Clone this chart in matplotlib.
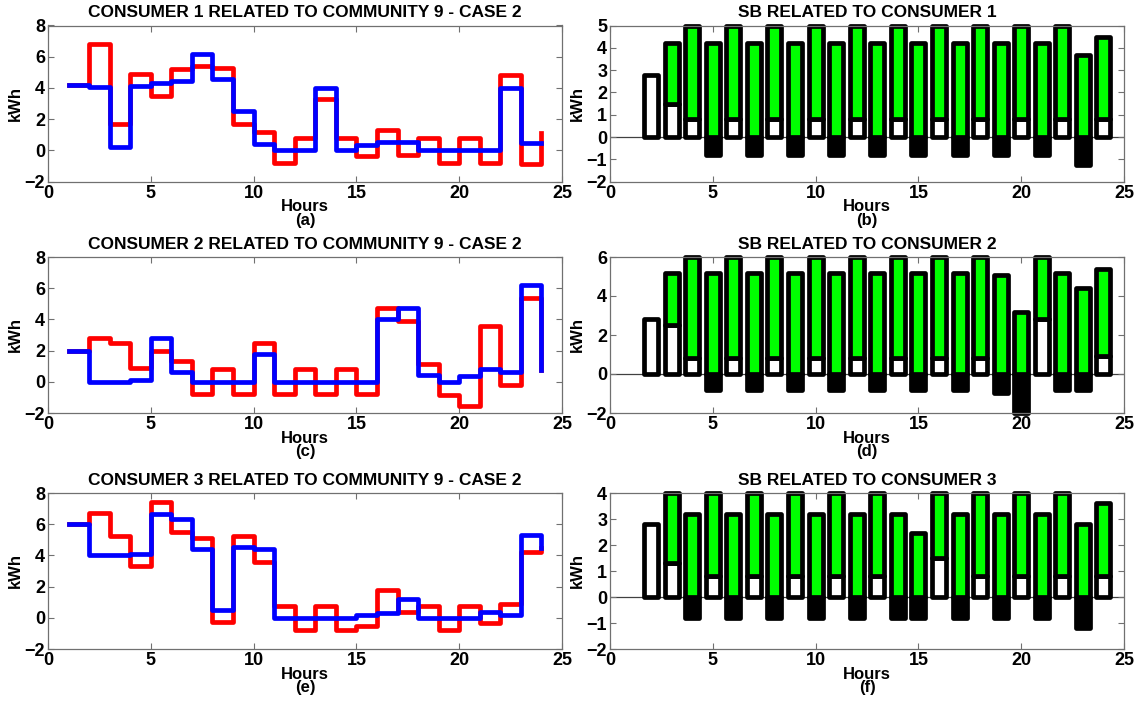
import numpy as np
import matplotlib
matplotlib.use("Agg")
import matplotlib.pyplot as plt

plt.rcParams["font.family"] = ["Liberation Sans", "DejaVu Sans"]
plt.rcParams["font.weight"] = "bold"

# ---- hourly energy profiles (kWh) ----
hours = np.arange(1, 25)

c1_red = [4.2, 6.8, 1.7, 4.9, 3.5, 5.2, 5.4, 5.3, 1.7, 1.2, -0.8, 0.8,
          3.3, 0.8, -0.35, 1.3, -0.3, 0.8, -0.8, 0.8, -0.8, 4.8, -0.85, 1.1]
c1_blue = [4.2, 4.05, 0.2, 4.1, 4.3, 4.45, 6.2, 4.55, 2.5, 0.4, 0.0, 0.0,
           4.0, 0.0, 0.35, 0.55, 0.55, 0.0, 0.0, 0.0, 0.0, 4.0, 0.5, 0.5]

c2_red = [2.0, 2.8, 2.5, 0.9, 2.0, 1.35, -0.8, 0.8, -0.8, 2.5, -0.8, 0.8,
          -0.8, 0.8, -0.8, 4.75, 3.9, 1.15, -0.85, -1.55, 3.6, -0.2, 5.4, 0.75]
c2_blue = [2.0, 0.0, 0.0, 0.1, 2.8, 0.6, 0.0, 0.0, 0.0, 1.8, 0.0, 0.0,
           0.0, 0.0, 0.0, 4.0, 4.7, 0.45, 0.0, 0.4, 0.85, 0.6, 6.2, 0.75]

c3_red = [6.0, 6.75, 5.25, 3.3, 7.4, 5.5, 5.1, -0.3, 5.25, 3.6, 0.75, -0.8,
          0.75, -0.8, -0.55, 1.8, 0.35, 0.75, -0.8, 0.75, -0.35, 0.9, 4.2, 4.5]
c3_blue = [6.0, 4.0, 4.0, 4.1, 6.65, 6.35, 4.4, 0.5, 4.55, 4.4, 0.0, 0.0,
           0.0, 0.0, 0.2, 0.3, 1.2, 0.0, 0.0, 0.0, 0.4, 0.2, 5.3, 4.5]

# ---- storage battery (SB) bars, hours 2..24 ----
sb_hours = np.arange(2, 25)

sb1_white = [2.8, 1.5, 0.8, 0, 0.8, 0, 0.8, 0, 0.8, 0, 0.8, 0,
             0.8, 0, 0.8, 0, 0.8, 0, 0.8, 0, 0.8, 0, 0.8]
sb1_green = [0, 2.7, 4.2, 4.2, 4.2, 4.2, 4.2, 4.2, 4.2, 4.2, 4.2, 4.2,
             4.2, 4.2, 4.2, 4.2, 4.2, 4.2, 4.2, 4.2, 4.2, 3.7, 3.7]
sb1_black = [0, 0, 0, -0.8, 0, -0.8, 0, -0.8, 0, -0.8, 0, -0.8,
             0, -0.8, 0, -0.8, 0, -0.8, 0, -0.8, 0, -1.25, 0]

sb2_white = [2.8, 2.5, 0.8, 0, 0.8, 0, 0.8, 0, 0.8, 0, 0.8, 0,
             0.8, 0, 0.8, 0, 0.8, 0, 0, 2.8, 0, 0, 0.9]
sb2_green = [0, 2.7, 5.2, 5.2, 5.2, 5.2, 5.2, 5.2, 5.2, 5.2, 5.2, 5.2,
             5.2, 5.2, 5.2, 5.2, 5.2, 5.1, 3.2, 3.2, 5.2, 4.4, 4.5]
sb2_black = [0, 0, 0, -0.8, 0, -0.8, 0, -0.8, 0, -0.8, 0, -0.8,
             0, -0.8, 0, -0.8, 0, -0.95, -2.0, 0, -0.8, -0.8, 0]

sb3_white = [2.8, 1.3, 0, 0.8, 0, 0.8, 0, 0.8, 0, 0.8, 0, 0.8,
             0, 0, 1.5, 0, 0.8, 0, 0.8, 0, 0.8, 0, 0.8]
sb3_green = [0, 2.7, 3.2, 3.2, 3.2, 3.2, 3.2, 3.2, 3.2, 3.2, 3.2, 3.2,
             3.2, 2.45, 2.5, 3.2, 3.2, 3.2, 3.2, 3.2, 3.2, 2.8, 2.8]
sb3_black = [0, 0, -0.8, 0, -0.8, 0, -0.8, 0, -0.8, 0, -0.8, 0,
             -0.8, -0.8, 0, -0.8, 0, -0.8, 0, -0.8, 0, -1.2, 0]

line_titles = ["CONSUMER 1 RELATED TO COMMUNITY 9 - CASE 2",
               "CONSUMER 2 RELATED TO COMMUNITY 9 - CASE 2",
               "CONSUMER 3 RELATED TO COMMUNITY 9 - CASE 2"]
sb_titles = ["SB RELATED TO CONSUMER 1",
             "SB RELATED TO CONSUMER 2",
             "SB RELATED TO CONSUMER 3"]
line_letters = ["(a)", "(c)", "(e)"]
sb_letters = ["(b)", "(d)", "(f)"]

W, H = 1137, 704
fig = plt.figure(figsize=(W / 100, H / 100), dpi=100)
fig.patch.set_facecolor("white")

TICK_FS = 13
TITLE_FS = 12.5
LABEL_FS = 12
SPINE = "#707070"


def make_axes(x0, y_top, x1, y_bot):
    return fig.add_axes([x0 / W, 1 - y_bot / H, (x1 - x0) / W, (y_bot - y_top) / H])


def style(ax, title, letter, ylim, yticks):
    ax.set_xlim(0, 25)
    ax.set_ylim(*ylim)
    ax.set_xticks([0, 5, 10, 15, 20, 25])
    ax.set_yticks(yticks)
    ax.tick_params(direction="in", top=True, right=True, length=4,
                   width=0.8, color=SPINE, labelsize=TICK_FS)
    ax.tick_params(axis="x", pad=2.5)
    ax.tick_params(axis="y", pad=2)
    for lab in ax.get_xticklabels() + ax.get_yticklabels():
        lab.set_fontweight("bold")
    for s in ax.spines.values():
        s.set_color(SPINE)
        s.set_linewidth(0.9)
    ax.set_title(title, fontsize=TITLE_FS, fontweight="bold", pad=6)
    ax.set_ylabel("kWh", fontsize=LABEL_FS, fontweight="bold", labelpad=1)
    ax.set_xlabel("Hours\n" + letter, fontsize=LABEL_FS, fontweight="bold",
                  labelpad=-2, linespacing=0.9)


rows = [(25.5, 181.7), (257.0, 413.0), (493.0, 649.0)]
line_data = [(c1_red, c1_blue), (c2_red, c2_blue), (c3_red, c3_blue)]
sb_data = [(sb1_white, sb1_green, sb1_black),
           (sb2_white, sb2_green, sb2_black),
           (sb3_white, sb3_green, sb3_black)]
sb_limits = [((-2, 5), range(-2, 6)),
             ((-2, 6), range(-2, 7, 2)),
             ((-2, 4), range(-2, 5))]

BAR_W = 0.68
EDGE = 3.4

for i, (yt, yb) in enumerate(rows):
    # step profiles
    ax = make_axes(48, yt, 562, yb)
    red, blue = line_data[i]
    ax.step(hours, red, where="post", color="#ff0000", lw=3.4)
    ax.step(hours, blue, where="post", color="#0000ff", lw=3.4)
    style(ax, line_titles[i], line_letters[i], (-2, 8), range(-2, 9, 2))

    # storage battery bars
    ax2 = make_axes(610, yt, 1124, yb)
    white, green, black = (np.asarray(a, dtype=float) for a in sb_data[i])
    ax2.axhline(0, color="#404040", lw=0.9, zorder=1)
    kw = dict(width=BAR_W, edgecolor="black", linewidth=EDGE, zorder=2)
    m = black != 0
    bars = ax2.bar(sb_hours[m], black[m], color="black", **kw)
    m = white != 0
    bars2 = ax2.bar(sb_hours[m], white[m], color="white", **kw)
    m = green != 0
    bars3 = ax2.bar(sb_hours[m], green[m], bottom=white[m], color="#00ff00", **kw)
    for b in list(bars) + list(bars2) + list(bars3):
        b.set_joinstyle("round")
        b.set_clip_on(False)
    ylim, yticks = sb_limits[i]
    style(ax2, sb_titles[i], sb_letters[i], ylim, list(yticks))

fig.savefig("out.png", dpi=100, facecolor="white")
